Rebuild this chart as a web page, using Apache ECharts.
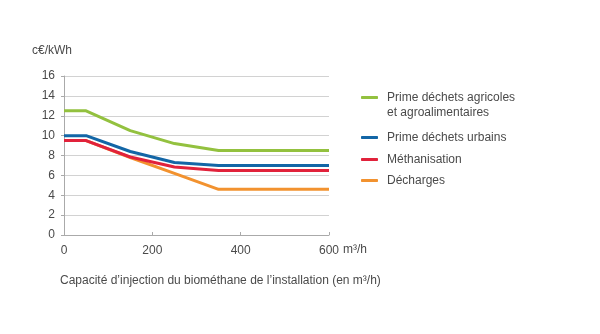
<!DOCTYPE html>
<html><head><meta charset="utf-8">
<script src="https://cdn.jsdelivr.net/npm/echarts@6/dist/echarts.min.js"></script>
<style>html,body{margin:0;padding:0;background:#fff}#c{width:600px;height:334px}</style>
</head><body><div id="c"></div>
<script>
var capacities = [0, 50, 150, 250, 350, 600];
var agricoles = [12.5, 12.5, 10.5, 9.2, 8.5, 8.5];
var urbains = [10.0, 10.0, 8.4, 7.3, 7.0, 7.0];
var methanisation = [9.5, 9.5, 7.85, 6.85, 6.5, 6.5];
var decharges = [9.5, 9.5, 7.8, 6.2, 4.6, 4.6];
var seriesNames = ['Prime déchets agricoles\net agroalimentaires', 'Prime déchets urbains', 'Méthanisation', 'Décharges'];
var colors = ['#93c13f', '#1366a6', '#e1223b', '#f2922f'];
var yTicks = [0, 2, 4, 6, 8, 10, 12, 14, 16];
var xTicks = [0, 200, 400, 600];

function pairs(vals) { return capacities.map(function (c, i) { return [c, vals[i]]; }); }
var font = '"Liberation Sans", Arial, sans-serif';
var txt = '#4a4a4a';
var chart = echarts.init(document.getElementById('c'));
var data = [agricoles, urbains, methanisation, decharges];
var order = [3, 2, 1, 0];
var series = order.map(function (i) {
  return {
    name: seriesNames[i], type: 'line', data: pairs(data[i]), symbol: 'none',
    lineStyle: { color: colors[i], width: 3 }, itemStyle: { color: colors[i] }, z: 2
  };
});
var legendTops = [75, 130, 152, 173];
var legends = seriesNames.map(function (n, i) {
  return {
    data: [n], left: 361, top: legendTops[i], orient: 'vertical', icon: 'roundRect',
    itemWidth: 17, itemHeight: 3, itemGap: 0, selectedMode: false, padding: 0,
    formatter: i === 0 ? function (name) { return ' \n' + name; } : '{name}',
    textStyle: { fontFamily: font, fontSize: 12, color: txt, lineHeight: 15, padding: [0, 0, 0, 4] }
  };
});
chart.setOption({
  animation: false,
  textStyle: { fontFamily: font },
  grid: { left: 64, right: 271, top: 76, bottom: 99 },
  title: [
    { text: 'c€/kWh', left: 32, top: 45, padding: 0, textStyle: { fontFamily: font, fontSize: 12, fontWeight: 'normal', color: txt } },
    { text: 'm³/h', left: 343, top: 244, padding: 0, textStyle: { fontFamily: font, fontSize: 12, fontWeight: 'normal', color: txt } },
    { text: 'Capacité d’injection du biométhane de l’installation (en m³/h)', left: 60, top: 275, padding: 0, textStyle: { fontFamily: font, fontSize: 12, fontWeight: 'normal', color: txt } }
  ],
  legend: legends,
  xAxis: {
    type: 'value', min: 0, max: 600, interval: 200,
    axisLine: { lineStyle: { color: '#aaaaaa', width: 1 } },
    axisTick: { show: true, length: 3, inside: true, lineStyle: { color: '#aaaaaa' } },
    splitLine: { show: false },
    axisLabel: { fontFamily: font, fontSize: 12, color: txt, margin: 10, formatter: function (v) { return xTicks.indexOf(v) >= 0 ? String(v) : ''; } }
  },
  yAxis: {
    type: 'value', min: 0, max: 16, interval: 2,
    axisLine: { show: true, lineStyle: { color: '#aaaaaa', width: 1 } },
    axisTick: { show: true, length: 3, lineStyle: { color: '#aaaaaa' } },
    splitLine: { show: true, lineStyle: { color: '#d2d2d2', width: 1 } },
    axisLabel: { fontFamily: font, fontSize: 12, color: txt, margin: 9, formatter: function (v) { return yTicks.indexOf(v) >= 0 ? String(v) : ''; } }
  },
  series: series
});
</script></body></html>
